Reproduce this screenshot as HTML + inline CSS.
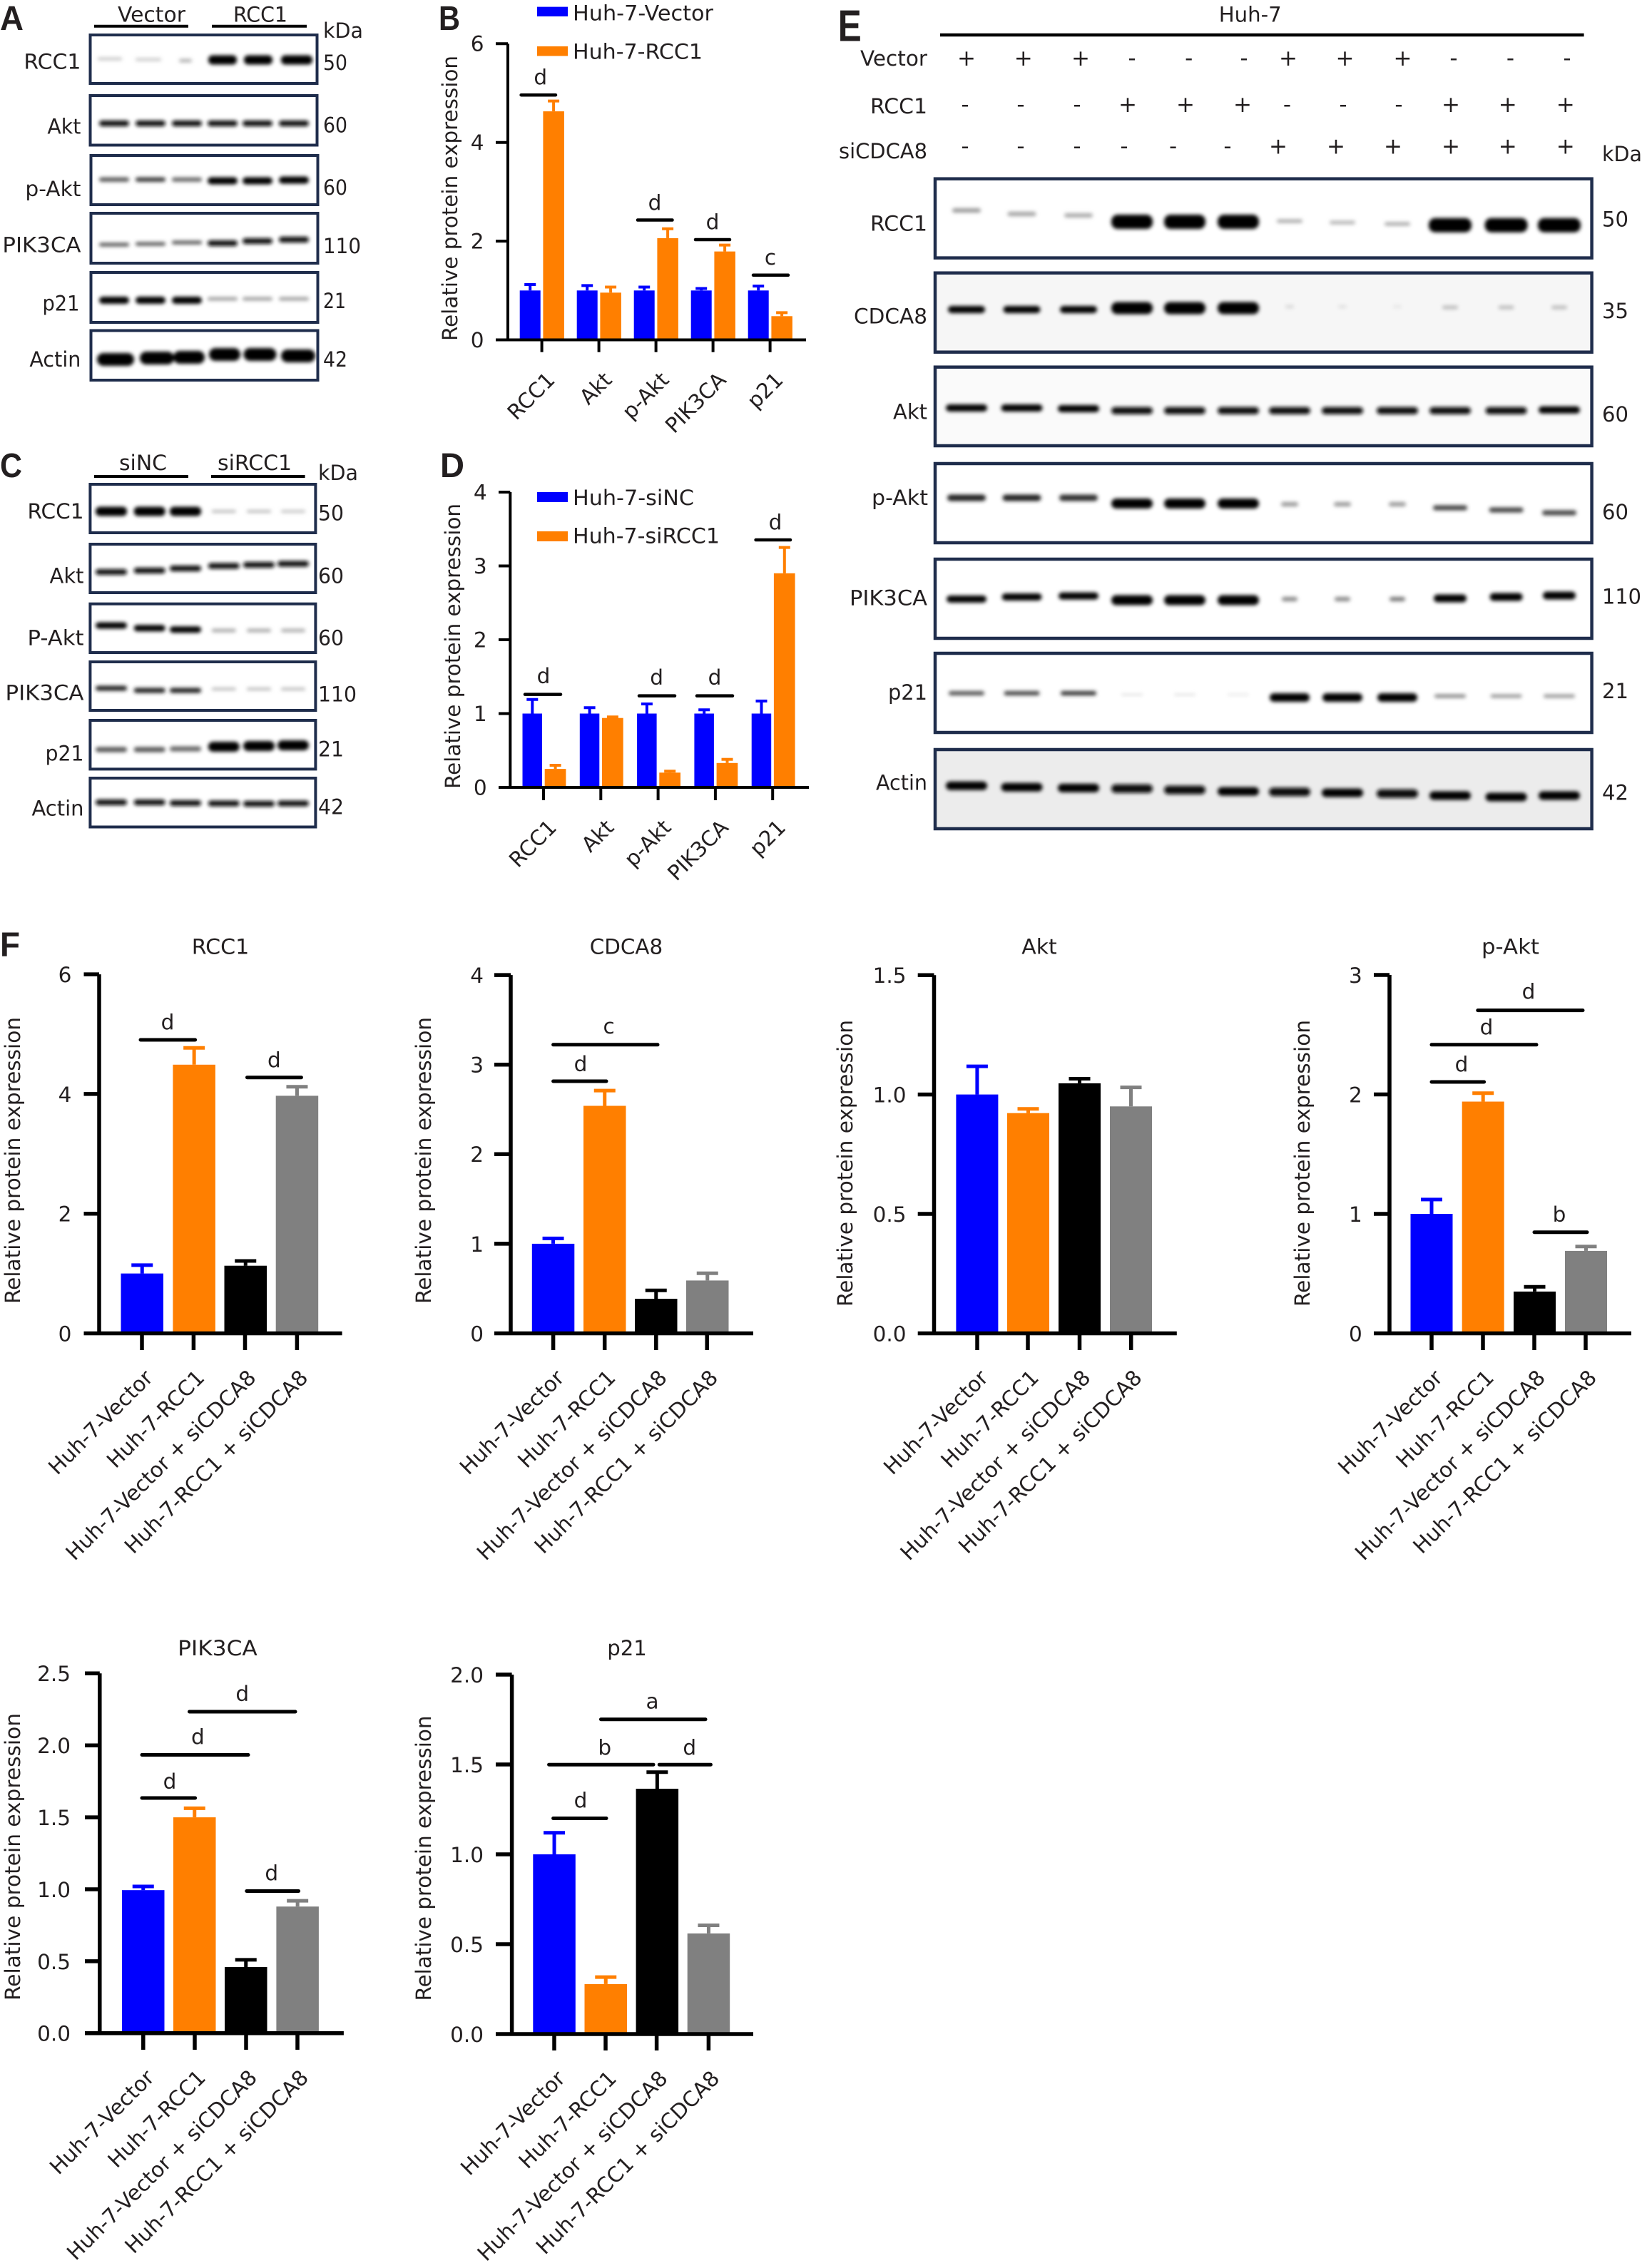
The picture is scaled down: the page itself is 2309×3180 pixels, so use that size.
<!DOCTYPE html>
<html>
<head>
<meta charset="utf-8">
<style>
html,body{margin:0;padding:0;background:#fff;}
svg{display:block;}
text{font-family:"DejaVu Sans","Liberation Sans",sans-serif;font-size:29.5px;fill:#231f20;}
.L{font-family:"Liberation Sans","DejaVu Sans",sans-serif;font-weight:bold;font-size:48px;fill:#231f20;}
.box{fill:none;stroke:#1f2d4c;stroke-width:4;}
.ax{stroke:#000;stroke-width:4;fill:none;}
.axF{stroke:#000;stroke-width:5.5;fill:none;}
.sig{stroke:#000;stroke-width:4.5;stroke-linecap:round;}
.sigF{stroke:#000;stroke-width:5;stroke-linecap:round;}
.hdr{stroke:#000;stroke-width:4;}
.pm text{font-size:31px;}
</style>
</head>
<body>
<svg width="2309" height="3180" viewBox="0 0 2309 3180" xmlns="http://www.w3.org/2000/svg">
<defs>
<filter id="bl" x="-30%" y="-200%" width="160%" height="500%"><feGaussianBlur stdDeviation="2.6"/></filter>
</defs>
<rect x="0" y="0" width="2309" height="3180" fill="#fff"/>

<!-- ================= PANEL A ================= -->
<text class="L" x="0" y="42" textLength="33" lengthAdjust="spacingAndGlyphs">A</text>
<text x="165" y="30.4" textLength="95" lengthAdjust="spacingAndGlyphs">Vector</text>
<line class="hdr" x1="132" y1="36.8" x2="264" y2="36.8"/>
<text x="327" y="30.4" textLength="76" lengthAdjust="spacingAndGlyphs">RCC1</text>
<line class="hdr" x1="297" y1="36.8" x2="430" y2="36.8"/>
<text x="453" y="52.8" textLength="56" lengthAdjust="spacingAndGlyphs">kDa</text>

<g text-anchor="end">
<text x="113.4" y="96.4" textLength="80" lengthAdjust="spacingAndGlyphs">RCC1</text>
<text x="113.4" y="187.5" textLength="47" lengthAdjust="spacingAndGlyphs">Akt</text>
<text x="113.4" y="275" textLength="78" lengthAdjust="spacingAndGlyphs">p-Akt</text>
<text x="113.4" y="353.5" textLength="110" lengthAdjust="spacingAndGlyphs">PIK3CA</text>
<text x="111.5" y="435.7" textLength="52" lengthAdjust="spacingAndGlyphs">p21</text>
<text x="113.4" y="514" textLength="72" lengthAdjust="spacingAndGlyphs">Actin</text>
</g>
<text x="453" y="98" textLength="34" lengthAdjust="spacingAndGlyphs">50</text>
<text x="453" y="185.7" textLength="34" lengthAdjust="spacingAndGlyphs">60</text>
<text x="453" y="273" textLength="34" lengthAdjust="spacingAndGlyphs">60</text>
<text x="453" y="355" textLength="53" lengthAdjust="spacingAndGlyphs">110</text>
<text x="453" y="432" textLength="32" lengthAdjust="spacingAndGlyphs">21</text>
<text x="453" y="514" textLength="34" lengthAdjust="spacingAndGlyphs">42</text>

<g filter="url(#bl)">
<rect x="137" y="80.5" width="34" height="4" rx="2" fill="#c4c4c4"/>
<rect x="190" y="81.5" width="36" height="4" rx="2" fill="#c8c8c8"/>
<rect x="251" y="82.5" width="18" height="5" rx="2.5" fill="#b4b4b4"/>
<rect x="292" y="77.5" width="40" height="13" rx="6" fill="#000"/>
<rect x="342" y="77.5" width="40" height="13" rx="6" fill="#000"/>
<rect x="394" y="77.5" width="44" height="13" rx="6" fill="#000"/>
<rect x="139" y="169" width="42" height="8" rx="4" fill="#111"/>
<rect x="190" y="169" width="42" height="8" rx="4" fill="#111"/>
<rect x="241" y="169" width="42" height="8" rx="4" fill="#111"/>
<rect x="291" y="169" width="42" height="8" rx="4" fill="#111"/>
<rect x="340" y="169" width="42" height="8" rx="4" fill="#111"/>
<rect x="391" y="169" width="42" height="8" rx="4" fill="#111"/>
<rect x="139" y="248.7" width="42" height="6" rx="3" fill="#555"/>
<rect x="190" y="248.7" width="42" height="6" rx="3" fill="#333"/>
<rect x="241" y="248.7" width="42" height="6" rx="3" fill="#666"/>
<rect x="291" y="248.5" width="42" height="10" rx="5" fill="#000"/>
<rect x="340" y="248.5" width="42" height="10" rx="5" fill="#000"/>
<rect x="391" y="247.5" width="42" height="10" rx="5" fill="#000"/>
<rect x="139" y="340.5" width="42" height="5" rx="2.5" fill="#555"/>
<rect x="190" y="339.5" width="42" height="5" rx="2.5" fill="#555"/>
<rect x="241" y="337.5" width="42" height="5" rx="2.5" fill="#555"/>
<rect x="291" y="337" width="42" height="8" rx="4" fill="#111"/>
<rect x="340" y="334" width="42" height="8" rx="4" fill="#111"/>
<rect x="391" y="332" width="42" height="8" rx="4" fill="#111"/>
<rect x="139" y="416" width="42" height="10" rx="5" fill="#000"/>
<rect x="190" y="416" width="42" height="10" rx="5" fill="#000"/>
<rect x="241" y="416" width="42" height="10" rx="5" fill="#000"/>
<rect x="291" y="416.5" width="42" height="5" rx="2.5" fill="#a0a0a0"/>
<rect x="340" y="416.5" width="42" height="5" rx="2.5" fill="#a0a0a0"/>
<rect x="391" y="416.5" width="42" height="5" rx="2.5" fill="#a0a0a0"/>
<rect x="136" y="495" width="52" height="18" rx="9" fill="#000"/>
<rect x="196" y="493" width="48" height="18" rx="9" fill="#000"/>
<rect x="243" y="492" width="44" height="18" rx="9" fill="#000"/>
<rect x="293" y="488" width="44" height="18" rx="9" fill="#000"/>
<rect x="341.5" y="488" width="46" height="18" rx="9" fill="#000"/>
<rect x="394" y="490" width="48" height="18" rx="9" fill="#000"/>
</g>
<rect class="box" x="126.5" y="49" width="318" height="68"/>
<rect class="box" x="126.5" y="134" width="318" height="69.5"/>
<rect class="box" x="127.5" y="218" width="318" height="69"/>
<rect class="box" x="127.5" y="299" width="318" height="70"/>
<rect class="box" x="127.5" y="382" width="318" height="70"/>
<rect class="box" x="127.5" y="463.5" width="318" height="69.5"/>

<!-- ================= PANEL B ================= -->
<text class="L" x="615" y="42" textLength="30" lengthAdjust="spacingAndGlyphs">B</text>
<rect x="753" y="9.6" width="43" height="13.4" fill="#0000ff"/>
<text x="803" y="28.7" textLength="197" lengthAdjust="spacingAndGlyphs">Huh-7-Vector</text>
<rect x="753" y="65" width="43" height="13.5" fill="#ff7f00"/>
<text x="803" y="82.3" textLength="182" lengthAdjust="spacingAndGlyphs">Huh-7-RCC1</text>

<text transform="translate(641,278) rotate(-90)" text-anchor="middle" textLength="400" lengthAdjust="spacingAndGlyphs">Relative protein expression</text>

<g fill="#0000ff">
<rect x="728.7" y="407.3" width="29" height="69.2"/>
<rect x="808.7" y="407.3" width="29" height="69.2"/>
<rect x="888.7" y="407.3" width="29" height="69.2"/>
<rect x="968.7" y="407.3" width="29" height="69.2"/>
<rect x="1048.7" y="407.3" width="29" height="69.2"/>
</g>
<g stroke="#0000ff" stroke-width="4">
<line x1="743.2" y1="407.3" x2="743.2" y2="399"/><line x1="735.2" y1="399" x2="751.2" y2="399"/>
<line x1="823.2" y1="407.3" x2="823.2" y2="400.4"/><line x1="815.2" y1="400.4" x2="831.2" y2="400.4"/>
<line x1="903.2" y1="407.3" x2="903.2" y2="402.5"/><line x1="895.2" y1="402.5" x2="911.2" y2="402.5"/>
<line x1="983.2" y1="407.3" x2="983.2" y2="404.5"/><line x1="975.2" y1="404.5" x2="991.2" y2="404.5"/>
<line x1="1063.2" y1="407.3" x2="1063.2" y2="401.1"/><line x1="1055.2" y1="401.1" x2="1071.2" y2="401.1"/>
</g>
<g fill="#ff7f00">
<rect x="761.4" y="156.1" width="29.5" height="320.4"/>
<rect x="841.4" y="410.3" width="29.5" height="66.2"/>
<rect x="921.4" y="333.9" width="29.5" height="142.6"/>
<rect x="1001.4" y="352.6" width="29.5" height="123.9"/>
<rect x="1081.4" y="443.3" width="29.5" height="33.2"/>
</g>
<g stroke="#ff7f00" stroke-width="4">
<line x1="776.1" y1="156.1" x2="776.1" y2="141.6"/><line x1="768.1" y1="141.6" x2="784.1" y2="141.6"/>
<line x1="856.1" y1="410.3" x2="856.1" y2="402.5"/><line x1="848.1" y1="402.5" x2="864.1" y2="402.5"/>
<line x1="936.1" y1="333.9" x2="936.1" y2="320.8"/><line x1="928.1" y1="320.8" x2="944.1" y2="320.8"/>
<line x1="1016.1" y1="352.6" x2="1016.1" y2="343.6"/><line x1="1008.1" y1="343.6" x2="1024.1" y2="343.6"/>
<line x1="1096.1" y1="443.3" x2="1096.1" y2="438.4"/><line x1="1088.1" y1="438.4" x2="1104.1" y2="438.4"/>
</g>
<line class="ax" x1="712" y1="61.2" x2="712" y2="478.5"/>
<g class="ax">
<line x1="695" y1="61.2" x2="712" y2="61.2"/>
<line x1="695" y1="199.7" x2="712" y2="199.7"/>
<line x1="695" y1="338.1" x2="712" y2="338.1"/>
<line x1="695" y1="476.5" x2="1130" y2="476.5"/>
<line x1="759.6" y1="476.5" x2="759.6" y2="493.7"/>
<line x1="839.6" y1="476.5" x2="839.6" y2="493.7"/>
<line x1="919.6" y1="476.5" x2="919.6" y2="493.7"/>
<line x1="999.6" y1="476.5" x2="999.6" y2="493.7"/>
<line x1="1079.6" y1="476.5" x2="1079.6" y2="493.7"/>
</g>
<g text-anchor="end">
<text x="678.5" y="71.7">6</text>
<text x="678.5" y="210.2">4</text>
<text x="678.5" y="348.6">2</text>
<text x="678.5" y="487">0</text>
<text transform="translate(779.6,534.5) rotate(-45)">RCC1</text>
<text transform="translate(859.6,534.5) rotate(-45)">Akt</text>
<text transform="translate(939.6,534.5) rotate(-45)">p-Akt</text>
<text transform="translate(1019.6,534.5) rotate(-45)">PIK3CA</text>
<text transform="translate(1099.6,534.5) rotate(-45)">p21</text>
</g>
<g class="sig">
<line x1="730.6" y1="133.2" x2="779" y2="133.2"/>
<line x1="894" y1="308.5" x2="942.5" y2="308.5"/>
<line x1="975" y1="336" x2="1023" y2="336"/>
<line x1="1056" y1="385.8" x2="1105" y2="385.8"/>
</g>
<g text-anchor="middle">
<text x="757.7" y="118.6">d</text>
<text x="918" y="294.7">d</text>
<text x="999" y="321.5">d</text>
<text x="1080" y="371">c</text>
</g>

<!-- ================= PANEL C ================= -->
<text class="L" x="0" y="669" textLength="31" lengthAdjust="spacingAndGlyphs">C</text>
<text x="167" y="659" textLength="67" lengthAdjust="spacingAndGlyphs">siNC</text>
<line class="hdr" x1="132" y1="668" x2="264" y2="668"/>
<text x="305" y="659" textLength="104" lengthAdjust="spacingAndGlyphs">siRCC1</text>
<line class="hdr" x1="296" y1="668" x2="427.6" y2="668"/>
<text x="446" y="673" textLength="56" lengthAdjust="spacingAndGlyphs">kDa</text>
<g text-anchor="end">
<text x="117.5" y="727" textLength="79" lengthAdjust="spacingAndGlyphs">RCC1</text>
<text x="117.5" y="817.5" textLength="48" lengthAdjust="spacingAndGlyphs">Akt</text>
<text x="117.5" y="904.5" textLength="79" lengthAdjust="spacingAndGlyphs">P-Akt</text>
<text x="117.5" y="981.6" textLength="110" lengthAdjust="spacingAndGlyphs">PIK3CA</text>
<text x="117.5" y="1066.6" textLength="54" lengthAdjust="spacingAndGlyphs">p21</text>
<text x="117.5" y="1143.7" textLength="73" lengthAdjust="spacingAndGlyphs">Actin</text>
</g>
<text x="446" y="729.7" textLength="36" lengthAdjust="spacingAndGlyphs">50</text>
<text x="446" y="817.5" textLength="36" lengthAdjust="spacingAndGlyphs">60</text>
<text x="446" y="904.5" textLength="36" lengthAdjust="spacingAndGlyphs">60</text>
<text x="446" y="983.5" textLength="54" lengthAdjust="spacingAndGlyphs">110</text>
<text x="446" y="1060.6" textLength="36" lengthAdjust="spacingAndGlyphs">21</text>
<text x="446" y="1141.7" textLength="36" lengthAdjust="spacingAndGlyphs">42</text>

<g filter="url(#bl)">
<rect x="134" y="710.5" width="44" height="13" rx="6" fill="#000"/>
<rect x="187.7" y="710.5" width="44" height="13" rx="6" fill="#000"/>
<rect x="238" y="710.5" width="44" height="13" rx="6" fill="#000"/>
<rect x="296.8" y="715" width="34" height="4" rx="2" fill="#bbb"/>
<rect x="346" y="715" width="34" height="4" rx="2" fill="#bbb"/>
<rect x="394" y="715" width="34" height="4" rx="2" fill="#c4c4c4"/>
<rect x="134" y="798" width="44" height="8" rx="4" fill="#111"/>
<rect x="187.7" y="796" width="44" height="8" rx="4" fill="#111"/>
<rect x="238" y="793" width="44" height="8" rx="4" fill="#111"/>
<rect x="291.8" y="789.5" width="44" height="8" rx="4" fill="#111"/>
<rect x="341" y="788" width="44" height="8" rx="4" fill="#111"/>
<rect x="389" y="786.5" width="44" height="8" rx="4" fill="#111"/>
<rect x="134" y="872.5" width="44" height="9" rx="4.5" fill="#000"/>
<rect x="187.7" y="876.2" width="44" height="9" rx="4.5" fill="#000"/>
<rect x="238" y="878.2" width="44" height="9" rx="4.5" fill="#000"/>
<rect x="296.8" y="881.5" width="34" height="5" rx="2.5" fill="#aaa"/>
<rect x="346" y="881.5" width="34" height="5" rx="2.5" fill="#aaa"/>
<rect x="394" y="881.5" width="34" height="5" rx="2.5" fill="#b0b0b0"/>
<rect x="134" y="961.5" width="44" height="7" rx="3.5" fill="#222"/>
<rect x="187.7" y="964.5" width="44" height="7" rx="3.5" fill="#222"/>
<rect x="238" y="964.5" width="44" height="7" rx="3.5" fill="#222"/>
<rect x="296.8" y="964" width="34" height="4" rx="2" fill="#bbb"/>
<rect x="346" y="964" width="34" height="4" rx="2" fill="#bbb"/>
<rect x="394" y="964" width="34" height="4" rx="2" fill="#bbb"/>
<rect x="134" y="1047.5" width="44" height="7" rx="3.5" fill="#555"/>
<rect x="187.7" y="1047.5" width="44" height="7" rx="3.5" fill="#555"/>
<rect x="238" y="1046.5" width="44" height="7" rx="3.5" fill="#666"/>
<rect x="291.8" y="1040" width="44" height="14" rx="7" fill="#000"/>
<rect x="341" y="1039" width="44" height="14" rx="7" fill="#000"/>
<rect x="389" y="1038" width="44" height="14" rx="7" fill="#000"/>
<rect x="134" y="1121" width="44" height="8" rx="4" fill="#111"/>
<rect x="187.7" y="1121" width="44" height="8" rx="4" fill="#111"/>
<rect x="238" y="1122" width="44" height="8" rx="4" fill="#111"/>
<rect x="291.8" y="1122.5" width="44" height="8" rx="4" fill="#111"/>
<rect x="341" y="1123" width="44" height="8" rx="4" fill="#111"/>
<rect x="389" y="1122.5" width="44" height="8" rx="4" fill="#111"/>
</g>
<rect class="box" x="126.4" y="679" width="316" height="68"/>
<rect class="box" x="126.4" y="763" width="316" height="68"/>
<rect class="box" x="126.4" y="846.7" width="316" height="68.3"/>
<rect class="box" x="126.4" y="928" width="316" height="68"/>
<rect class="box" x="126.4" y="1010" width="316" height="68.4"/>
<rect class="box" x="126.4" y="1091" width="316" height="68.5"/>

<!-- ================= PANEL D ================= -->
<text class="L" x="617" y="669" textLength="34" lengthAdjust="spacingAndGlyphs">D</text>
<rect x="753" y="690" width="43" height="14" fill="#0000ff"/>
<text x="803" y="707.8" textLength="170" lengthAdjust="spacingAndGlyphs">Huh-7-siNC</text>
<rect x="753" y="745" width="43" height="14" fill="#ff7f00"/>
<text x="803" y="761.3" textLength="206" lengthAdjust="spacingAndGlyphs">Huh-7-siRCC1</text>
<text transform="translate(645,906) rotate(-90)" text-anchor="middle" textLength="400" lengthAdjust="spacingAndGlyphs">Relative protein expression</text>

<g fill="#0000ff">
<rect x="732.5" y="1000.5" width="27.5" height="103.5"/>
<rect x="812.8" y="1000.5" width="27.5" height="103.5"/>
<rect x="893.1" y="1000.5" width="27.5" height="103.5"/>
<rect x="973.4" y="1000.5" width="27.5" height="103.5"/>
<rect x="1053.7" y="1000.5" width="27.5" height="103.5"/>
</g>
<g stroke="#0000ff" stroke-width="4">
<line x1="746.3" y1="1000.5" x2="746.3" y2="980.8"/><line x1="738.3" y1="980.8" x2="754.3" y2="980.8"/>
<line x1="826.6" y1="1000.5" x2="826.6" y2="992.2"/><line x1="818.6" y1="992.2" x2="834.6" y2="992.2"/>
<line x1="906.9" y1="1000.5" x2="906.9" y2="987"/><line x1="898.9" y1="987" x2="914.9" y2="987"/>
<line x1="987.2" y1="1000.5" x2="987.2" y2="995.3"/><line x1="979.2" y1="995.3" x2="995.2" y2="995.3"/>
<line x1="1067.5" y1="1000.5" x2="1067.5" y2="982.9"/><line x1="1059.5" y1="982.9" x2="1075.5" y2="982.9"/>
</g>
<g fill="#ff7f00">
<rect x="763.7" y="1078.1" width="29.7" height="25.9"/>
<rect x="844" y="1006.7" width="29.7" height="97.3"/>
<rect x="924.3" y="1083.3" width="29.7" height="20.7"/>
<rect x="1004.6" y="1069.8" width="29.7" height="34.2"/>
<rect x="1084.9" y="803.8" width="29.7" height="300.2"/>
</g>
<g stroke="#ff7f00" stroke-width="4">
<line x1="778.6" y1="1078.1" x2="778.6" y2="1073"/><line x1="770.6" y1="1073" x2="786.6" y2="1073"/>
<line x1="850.9" y1="1005.2" x2="866.9" y2="1005.2"/>
<line x1="939.2" y1="1083.3" x2="939.2" y2="1081.2"/><line x1="931.2" y1="1081.2" x2="947.2" y2="1081.2"/>
<line x1="1019.5" y1="1069.8" x2="1019.5" y2="1064.7"/><line x1="1011.5" y1="1064.7" x2="1027.5" y2="1064.7"/>
<line x1="1099.8" y1="803.8" x2="1099.8" y2="767.6"/><line x1="1091.8" y1="767.6" x2="1107.8" y2="767.6"/>
</g>
<line class="ax" x1="715.3" y1="690" x2="715.3" y2="1106"/>
<g class="ax">
<line x1="699" y1="690" x2="715.3" y2="690"/>
<line x1="699" y1="793.5" x2="715.3" y2="793.5"/>
<line x1="699" y1="897" x2="715.3" y2="897"/>
<line x1="699" y1="1000.5" x2="715.3" y2="1000.5"/>
<line x1="699" y1="1104" x2="1134" y2="1104"/>
<line x1="762" y1="1104" x2="762" y2="1122"/>
<line x1="842.3" y1="1104" x2="842.3" y2="1122"/>
<line x1="922.6" y1="1104" x2="922.6" y2="1122"/>
<line x1="1002.9" y1="1104" x2="1002.9" y2="1122"/>
<line x1="1083.2" y1="1104" x2="1083.2" y2="1122"/>
</g>
<g text-anchor="end">
<text x="682.6" y="700.5">4</text>
<text x="682.6" y="804">3</text>
<text x="682.6" y="907.5">2</text>
<text x="682.6" y="1011">1</text>
<text x="682.6" y="1114.5">0</text>
<text transform="translate(782,1162) rotate(-45)">RCC1</text>
<text transform="translate(862.3,1162) rotate(-45)">Akt</text>
<text transform="translate(942.6,1162) rotate(-45)">p-Akt</text>
<text transform="translate(1022.9,1162) rotate(-45)">PIK3CA</text>
<text transform="translate(1103.2,1162) rotate(-45)">p21</text>
</g>
<g class="sig">
<line x1="736" y1="973.6" x2="786" y2="973.6"/>
<line x1="896" y1="975.6" x2="946" y2="975.6"/>
<line x1="977" y1="975.6" x2="1027" y2="975.6"/>
<line x1="1059.6" y1="757" x2="1108" y2="757"/>
</g>
<g text-anchor="middle">
<text x="762" y="957.8">d</text>
<text x="920.6" y="959.8">d</text>
<text x="1002" y="959.8">d</text>
<text x="1087" y="742.3">d</text>
</g>

<!-- ================= PANEL E ================= -->
<text class="L" x="1174.7" y="57.4" style="font-size:62px" textLength="33" lengthAdjust="spacingAndGlyphs">E</text>
<text x="1708.7" y="30.6" textLength="88" lengthAdjust="spacingAndGlyphs">Huh-7</text>
<line x1="1318" y1="49" x2="2220.6" y2="49" stroke="#000" stroke-width="4.5"/>
<g text-anchor="end">
<text x="1300" y="91.8" textLength="94" lengthAdjust="spacingAndGlyphs">Vector</text>
<text x="1300" y="158.8" textLength="80" lengthAdjust="spacingAndGlyphs">RCC1</text>
<text x="1300" y="222" textLength="124" lengthAdjust="spacingAndGlyphs">siCDCA8</text>
</g>
<g text-anchor="middle" class="pm">
<text x="1355" y="92">+</text><text x="1434.7" y="92">+</text><text x="1515" y="92">+</text>
<text x="1587" y="92">-</text><text x="1666.7" y="92">-</text><text x="1744" y="92">-</text>
<text x="1806" y="92">+</text><text x="1885.5" y="92">+</text><text x="1966.5" y="92">+</text>
<text x="2038" y="92">-</text><text x="2117.5" y="92">-</text><text x="2197" y="92">-</text>
<text x="1353" y="157">-</text><text x="1431" y="157">-</text><text x="1510" y="157">-</text>
<text x="1581" y="157">+</text><text x="1662" y="157">+</text><text x="1742" y="157">+</text>
<text x="1804.5" y="157">-</text><text x="1883" y="157">-</text><text x="1961" y="157">-</text>
<text x="2034" y="157">+</text><text x="2113.7" y="157">+</text><text x="2194.7" y="157">+</text>
<text x="1353" y="215.5">-</text><text x="1431" y="215.5">-</text><text x="1510" y="215.5">-</text>
<text x="1576" y="215.5">-</text><text x="1644.6" y="215.5">-</text><text x="1721" y="215.5">-</text>
<text x="1792" y="215.5">+</text><text x="1873" y="215.5">+</text><text x="1953" y="215.5">+</text>
<text x="2034" y="215.5">+</text><text x="2113.7" y="215.5">+</text><text x="2194.7" y="215.5">+</text>
</g>
<text x="2246" y="225.8" textLength="56" lengthAdjust="spacingAndGlyphs">kDa</text>
<g text-anchor="end">
<text x="1300" y="323.4" textLength="80" lengthAdjust="spacingAndGlyphs">RCC1</text>
<text x="1300" y="453.5" textLength="103" lengthAdjust="spacingAndGlyphs">CDCA8</text>
<text x="1300" y="587.4" textLength="48" lengthAdjust="spacingAndGlyphs">Akt</text>
<text x="1301" y="708" textLength="79" lengthAdjust="spacingAndGlyphs">p-Akt</text>
<text x="1300" y="848.6" textLength="109" lengthAdjust="spacingAndGlyphs">PIK3CA</text>
<text x="1300" y="981" textLength="55" lengthAdjust="spacingAndGlyphs">p21</text>
<text x="1300" y="1107.6" textLength="72" lengthAdjust="spacingAndGlyphs">Actin</text>
</g>
<text x="2246" y="317.6" textLength="37" lengthAdjust="spacingAndGlyphs">50</text>
<text x="2246" y="445.8" textLength="37" lengthAdjust="spacingAndGlyphs">35</text>
<text x="2246" y="591" textLength="37" lengthAdjust="spacingAndGlyphs">60</text>
<text x="2246" y="728" textLength="37" lengthAdjust="spacingAndGlyphs">60</text>
<text x="2246" y="846.7" textLength="55" lengthAdjust="spacingAndGlyphs">110</text>
<text x="2246" y="979" textLength="37" lengthAdjust="spacingAndGlyphs">21</text>
<text x="2246" y="1121.5" textLength="37" lengthAdjust="spacingAndGlyphs">42</text>

<rect x="1313" y="384.7" width="916" height="107" fill="#f6f6f6"/>
<rect x="1313" y="516.7" width="916" height="106" fill="#fafafa"/>
<rect x="1313" y="1053" width="916" height="107" fill="#ececec"/>

<g filter="url(#bl)">
<rect x="1335" y="292" width="40" height="6" rx="3" fill="#999"/>
<rect x="1412.5" y="297" width="40" height="6" rx="3" fill="#a4a4a4"/>
<rect x="1492" y="299" width="40" height="6" rx="3" fill="#aaa"/>
<rect x="1558" y="301" width="58" height="20" rx="9" fill="#000"/>
<rect x="1632" y="301" width="58" height="20" rx="9" fill="#000"/>
<rect x="1707" y="301" width="58" height="20" rx="9" fill="#000"/>
<rect x="1790" y="307.5" width="36" height="5" rx="2.5" fill="#aaa"/>
<rect x="1864" y="309.5" width="36" height="5" rx="2.5" fill="#b4b4b4"/>
<rect x="1941" y="311.5" width="36" height="5" rx="2.5" fill="#aaa"/>
<rect x="2003" y="305.7" width="60" height="20" rx="9" fill="#000"/>
<rect x="2081.6" y="305.7" width="60" height="20" rx="9" fill="#000"/>
<rect x="2156" y="305.7" width="60" height="20" rx="9" fill="#000"/>
<rect x="1329" y="429" width="52" height="10" rx="5" fill="#000"/>
<rect x="1406.5" y="429" width="52" height="10" rx="5" fill="#000"/>
<rect x="1486" y="429" width="52" height="10" rx="5" fill="#000"/>
<rect x="1558" y="423.5" width="58" height="17" rx="8" fill="#000"/>
<rect x="1632" y="423.5" width="58" height="17" rx="8" fill="#000"/>
<rect x="1707" y="423.5" width="58" height="17" rx="8" fill="#000"/>
<rect x="1802" y="428" width="12" height="4" rx="2" fill="#d4d4d4"/>
<rect x="1876" y="428" width="12" height="4" rx="2" fill="#ddd"/>
<rect x="1953" y="428" width="12" height="4" rx="2" fill="#e4e4e4"/>
<rect x="2022" y="428.5" width="22" height="5" rx="2.5" fill="#bbb"/>
<rect x="2100.6" y="428.5" width="22" height="5" rx="2.5" fill="#bbb"/>
<rect x="2175" y="428.5" width="22" height="5" rx="2.5" fill="#bbb"/>
<rect x="1326" y="567" width="58" height="10" rx="5" fill="#000"/>
<rect x="1403.5" y="567" width="58" height="10" rx="5" fill="#000"/>
<rect x="1483" y="568" width="58" height="10" rx="5" fill="#000"/>
<rect x="1558" y="570.8" width="58" height="10" rx="5" fill="#111"/>
<rect x="1632" y="570.8" width="58" height="10" rx="5" fill="#111"/>
<rect x="1707" y="570.8" width="58" height="10" rx="5" fill="#111"/>
<rect x="1779" y="570.8" width="58" height="10" rx="5" fill="#111"/>
<rect x="1853" y="570.8" width="58" height="10" rx="5" fill="#111"/>
<rect x="1930" y="570.8" width="58" height="10" rx="5" fill="#111"/>
<rect x="2004" y="570.8" width="58" height="10" rx="5" fill="#111"/>
<rect x="2082.6" y="570.8" width="58" height="10" rx="5" fill="#111"/>
<rect x="2157" y="569.8" width="58" height="10" rx="5" fill="#000"/>
<rect x="1328" y="693.5" width="54" height="9" rx="4.5" fill="#222"/>
<rect x="1405.5" y="693.5" width="54" height="9" rx="4.5" fill="#222"/>
<rect x="1485" y="693.5" width="54" height="9" rx="4.5" fill="#333"/>
<rect x="1558" y="699" width="58" height="14" rx="7" fill="#000"/>
<rect x="1632" y="699" width="58" height="14" rx="7" fill="#000"/>
<rect x="1707" y="699" width="58" height="14" rx="7" fill="#000"/>
<rect x="1796" y="704" width="24" height="6" rx="3" fill="#999"/>
<rect x="1870" y="704" width="24" height="6" rx="3" fill="#999"/>
<rect x="1947" y="704" width="24" height="6" rx="3" fill="#999"/>
<rect x="2009" y="708.5" width="48" height="7" rx="3.5" fill="#444"/>
<rect x="2087.6" y="711.5" width="48" height="7" rx="3.5" fill="#444"/>
<rect x="2162" y="715.5" width="48" height="7" rx="3.5" fill="#444"/>
<rect x="1327" y="835" width="56" height="10" rx="5" fill="#000"/>
<rect x="1404.5" y="832" width="56" height="10" rx="5" fill="#000"/>
<rect x="1484" y="830.6" width="56" height="10" rx="5" fill="#000"/>
<rect x="1558" y="834.5" width="58" height="14" rx="7" fill="#000"/>
<rect x="1632" y="834.5" width="58" height="14" rx="7" fill="#000"/>
<rect x="1707" y="834.5" width="58" height="14" rx="7" fill="#000"/>
<rect x="1797" y="837" width="22" height="6" rx="3" fill="#888"/>
<rect x="1871" y="837" width="22" height="6" rx="3" fill="#888"/>
<rect x="1948" y="837" width="22" height="6" rx="3" fill="#777"/>
<rect x="2010" y="833.5" width="46" height="11" rx="5.5" fill="#000"/>
<rect x="2088.6" y="831.5" width="46" height="11" rx="5.5" fill="#000"/>
<rect x="2163" y="829.5" width="46" height="11" rx="5.5" fill="#000"/>
<rect x="1330" y="969" width="50" height="6" rx="3" fill="#555"/>
<rect x="1407.5" y="969" width="50" height="6" rx="3" fill="#444"/>
<rect x="1487" y="969" width="50" height="6" rx="3" fill="#333"/>
<rect x="1572" y="972.5" width="30" height="3" rx="1.5" fill="#e0e0e0"/>
<rect x="1646" y="972.5" width="30" height="3" rx="1.5" fill="#e0e0e0"/>
<rect x="1721" y="972.5" width="30" height="3" rx="1.5" fill="#e8e8e8"/>
<rect x="1780" y="972" width="56" height="12" rx="6" fill="#000"/>
<rect x="1854" y="972" width="56" height="12" rx="6" fill="#000"/>
<rect x="1931" y="972" width="56" height="12" rx="6" fill="#000"/>
<rect x="2011" y="973.5" width="44" height="5" rx="2.5" fill="#888"/>
<rect x="2089.6" y="973.5" width="44" height="5" rx="2.5" fill="#999"/>
<rect x="2164" y="973.5" width="44" height="5" rx="2.5" fill="#999"/>
<rect x="1326" y="1095.7" width="58" height="12" rx="6" fill="#000"/>
<rect x="1403.5" y="1097.7" width="58" height="12" rx="6" fill="#000"/>
<rect x="1483" y="1098.9" width="58" height="12" rx="6" fill="#000"/>
<rect x="1558" y="1099.7" width="58" height="12" rx="6" fill="#111"/>
<rect x="1632" y="1101.6" width="58" height="12" rx="6" fill="#111"/>
<rect x="1707" y="1103.6" width="58" height="12" rx="6" fill="#000"/>
<rect x="1779" y="1104.4" width="58" height="12" rx="6" fill="#111"/>
<rect x="1853" y="1105.6" width="58" height="12" rx="6" fill="#000"/>
<rect x="1930" y="1106.8" width="58" height="12" rx="6" fill="#111"/>
<rect x="2004" y="1109.5" width="58" height="12" rx="6" fill="#000"/>
<rect x="2082.6" y="1111.5" width="58" height="12" rx="6" fill="#000"/>
<rect x="2157" y="1109.5" width="58" height="12" rx="6" fill="#000"/>
</g>
<g class="box" style="stroke-width:4.5">
<rect x="1311" y="250.7" width="920.6" height="110.9"/>
<rect x="1311" y="382.7" width="920.6" height="111"/>
<rect x="1311" y="514.7" width="920.6" height="110.3"/>
<rect x="1311" y="650" width="920.6" height="111"/>
<rect x="1311" y="784" width="920.6" height="111"/>
<rect x="1311" y="916" width="920.6" height="111"/>
<rect x="1311" y="1051" width="920.6" height="111"/>
</g>

<!-- ================= PANEL F ================= -->
<text class="L" x="0" y="1340.3" textLength="28" lengthAdjust="spacingAndGlyphs">F</text>

<!-- F1 RCC1 -->
<text x="309" y="1337.4" text-anchor="middle" textLength="80.5" lengthAdjust="spacingAndGlyphs">RCC1</text>
<text transform="translate(28,1627) rotate(-90)" text-anchor="middle" textLength="402" lengthAdjust="spacingAndGlyphs">Relative protein expression</text>
<rect x="169.5" y="1785.6" width="59.5" height="83.9" fill="#0000ff"/>
<rect x="242.4" y="1492.8" width="59.5" height="376.7" fill="#ff7f00"/>
<rect x="314.5" y="1774.7" width="59.5" height="94.8" fill="#000"/>
<rect x="386.7" y="1536.4" width="59.5" height="333.1" fill="#808080"/>
<g stroke-width="5">
<path d="M199.25 1785.6V1773.9M184.25 1773.9H214.25" stroke="#0000ff"/>
<path d="M272.15 1492.8V1469.3M257.15 1469.3H287.15" stroke="#ff7f00"/>
<path d="M344.25 1774.7V1768M329.25 1768H359.25" stroke="#000"/>
<path d="M416.45 1536.4V1523.8M401.45 1523.8H431.45" stroke="#808080"/>
</g>
<g class="axF">
<line x1="139" y1="1366.1" x2="139" y2="1872"/>
<line x1="117.5" y1="1366.1" x2="139" y2="1366.1"/>
<line x1="117.5" y1="1533.9" x2="139" y2="1533.9"/>
<line x1="117.5" y1="1701.7" x2="139" y2="1701.7"/>
<line x1="117.5" y1="1869.5" x2="479.6" y2="1869.5"/>
<line x1="199" y1="1869.5" x2="199" y2="1893"/>
<line x1="271.4" y1="1869.5" x2="271.4" y2="1893"/>
<line x1="343.5" y1="1869.5" x2="343.5" y2="1893"/>
<line x1="416.4" y1="1869.5" x2="416.4" y2="1893"/>
</g>
<g text-anchor="end">
<text x="100.4" y="1377">6</text>
<text x="100.4" y="1544.8">4</text>
<text x="100.4" y="1712.6">2</text>
<text x="100.4" y="1880.4">0</text>
<text transform="translate(216,1933.5) rotate(-45)">Huh-7-Vector</text>
<text transform="translate(288.4,1933.5) rotate(-45)">Huh-7-RCC1</text>
<text transform="translate(360.5,1933.5) rotate(-45)">Huh-7-Vector + siCDCA8</text>
<text transform="translate(433.4,1933.5) rotate(-45)">Huh-7-RCC1 + siCDCA8</text>
</g>
<g class="sigF">
<line x1="197" y1="1458" x2="273.6" y2="1458"/>
<line x1="346.5" y1="1510.7" x2="422.4" y2="1510.7"/>
</g>
<g text-anchor="middle">
<text x="235" y="1443.6">d</text>
<text x="384.4" y="1496.4">d</text>
</g>

<!-- F2 CDCA8 -->
<text x="878" y="1337.4" text-anchor="middle" textLength="102.5" lengthAdjust="spacingAndGlyphs">CDCA8</text>
<text transform="translate(604,1627) rotate(-90)" text-anchor="middle" textLength="402" lengthAdjust="spacingAndGlyphs">Relative protein expression</text>
<rect x="745.8" y="1743.9" width="59.5" height="125.6" fill="#0000ff"/>
<rect x="818" y="1550.5" width="59.5" height="319" fill="#ff7f00"/>
<rect x="890" y="1821" width="59.5" height="48.5" fill="#000"/>
<rect x="962" y="1795.4" width="59.5" height="74.1" fill="#808080"/>
<g stroke-width="5">
<path d="M775.55 1743.9V1736.4M760.55 1736.4H790.55" stroke="#0000ff"/>
<path d="M847.75 1550.5V1529.1M832.75 1529.1H862.75" stroke="#ff7f00"/>
<path d="M919.75 1821V1809.2M904.75 1809.2H934.75" stroke="#000"/>
<path d="M991.75 1795.4V1785.3M976.75 1785.3H1006.75" stroke="#808080"/>
</g>
<g class="axF">
<line x1="716" y1="1367.1" x2="716" y2="1872"/>
<line x1="693" y1="1367.1" x2="716" y2="1367.1"/>
<line x1="693" y1="1492.7" x2="716" y2="1492.7"/>
<line x1="693" y1="1618.3" x2="716" y2="1618.3"/>
<line x1="693" y1="1743.9" x2="716" y2="1743.9"/>
<line x1="693" y1="1869.5" x2="1056" y2="1869.5"/>
<line x1="775.6" y1="1869.5" x2="775.6" y2="1893"/>
<line x1="847.7" y1="1869.5" x2="847.7" y2="1893"/>
<line x1="919.8" y1="1869.5" x2="919.8" y2="1893"/>
<line x1="991.2" y1="1869.5" x2="991.2" y2="1893"/>
</g>
<g text-anchor="end">
<text x="678" y="1378">4</text>
<text x="678" y="1503.6">3</text>
<text x="678" y="1629.2">2</text>
<text x="678" y="1754.8">1</text>
<text x="678" y="1880.4">0</text>
<text transform="translate(792.6,1933.5) rotate(-45)">Huh-7-Vector</text>
<text transform="translate(864.7,1933.5) rotate(-45)">Huh-7-RCC1</text>
<text transform="translate(936.8,1933.5) rotate(-45)">Huh-7-Vector + siCDCA8</text>
<text transform="translate(1008.2,1933.5) rotate(-45)">Huh-7-RCC1 + siCDCA8</text>
</g>
<g class="sigF">
<line x1="775.6" y1="1516" x2="850" y2="1516"/>
<line x1="775.6" y1="1464.8" x2="922" y2="1464.8"/>
</g>
<g text-anchor="middle">
<text x="814" y="1502">d</text>
<text x="853.6" y="1449">c</text>
</g>

<!-- F3 Akt -->
<text x="1457" y="1337.4" text-anchor="middle" textLength="49.5" lengthAdjust="spacingAndGlyphs">Akt</text>
<text transform="translate(1195,1631) rotate(-90)" text-anchor="middle" textLength="402" lengthAdjust="spacingAndGlyphs">Relative protein expression</text>
<rect x="1340.4" y="1534.6" width="59" height="334.9" fill="#0000ff"/>
<rect x="1412" y="1560.7" width="59" height="308.8" fill="#ff7f00"/>
<rect x="1484" y="1518.9" width="59" height="350.6" fill="#000"/>
<rect x="1556" y="1551.3" width="59" height="318.2" fill="#808080"/>
<g stroke-width="5">
<path d="M1369.9 1534.6V1495.1M1354.9 1495.1H1384.9" stroke="#0000ff"/>
<path d="M1441.5 1560.7V1554.7M1426.5 1554.7H1456.5" stroke="#ff7f00"/>
<path d="M1513.5 1518.9V1512.5M1498.5 1512.5H1528.5" stroke="#000"/>
<path d="M1585.5 1551.3V1524.6M1570.5 1524.6H1600.5" stroke="#808080"/>
</g>
<g class="axF">
<line x1="1309.5" y1="1367.2" x2="1309.5" y2="1872"/>
<line x1="1286.7" y1="1367.2" x2="1309.5" y2="1367.2"/>
<line x1="1286.7" y1="1534.6" x2="1309.5" y2="1534.6"/>
<line x1="1286.7" y1="1702" x2="1309.5" y2="1702"/>
<line x1="1286.7" y1="1869.5" x2="1649.8" y2="1869.5"/>
<line x1="1370" y1="1869.5" x2="1370" y2="1893"/>
<line x1="1441" y1="1869.5" x2="1441" y2="1893"/>
<line x1="1513.5" y1="1869.5" x2="1513.5" y2="1893"/>
<line x1="1585.7" y1="1869.5" x2="1585.7" y2="1893"/>
</g>
<g text-anchor="end">
<text x="1270.5" y="1378.1">1.5</text>
<text x="1270.5" y="1545.5">1.0</text>
<text x="1270.5" y="1712.9">0.5</text>
<text x="1270.5" y="1880.4">0.0</text>
<text transform="translate(1387,1933.5) rotate(-45)">Huh-7-Vector</text>
<text transform="translate(1458,1933.5) rotate(-45)">Huh-7-RCC1</text>
<text transform="translate(1530.5,1933.5) rotate(-45)">Huh-7-Vector + siCDCA8</text>
<text transform="translate(1602.7,1933.5) rotate(-45)">Huh-7-RCC1 + siCDCA8</text>
</g>

<!-- F4 p-Akt -->
<text x="2117.5" y="1337.4" text-anchor="middle" textLength="81" lengthAdjust="spacingAndGlyphs">p-Akt</text>
<text transform="translate(1836,1631) rotate(-90)" text-anchor="middle" textLength="402" lengthAdjust="spacingAndGlyphs">Relative protein expression</text>
<rect x="1977.5" y="1702" width="59" height="167.5" fill="#0000ff"/>
<rect x="2049.7" y="1544.55" width="59" height="324.95" fill="#ff7f00"/>
<rect x="2122" y="1810.9" width="59" height="58.6" fill="#000"/>
<rect x="2194" y="1753.9" width="59" height="115.6" fill="#808080"/>
<g stroke-width="5">
<path d="M2007 1702V1681.9M1992 1681.9H2022" stroke="#0000ff"/>
<path d="M2079.2 1544.55V1532.8M2064.2 1532.8H2094.2" stroke="#ff7f00"/>
<path d="M2151.5 1810.9V1804.2M2136.5 1804.2H2166.5" stroke="#000"/>
<path d="M2223.5 1753.9V1747.7M2208.5 1747.7H2238.5" stroke="#808080"/>
</g>
<g class="axF">
<line x1="1948" y1="1367" x2="1948" y2="1872"/>
<line x1="1926" y1="1367" x2="1948" y2="1367"/>
<line x1="1926" y1="1534.5" x2="1948" y2="1534.5"/>
<line x1="1926" y1="1702" x2="1948" y2="1702"/>
<line x1="1926" y1="1869.5" x2="2287" y2="1869.5"/>
<line x1="2007" y1="1869.5" x2="2007" y2="1893"/>
<line x1="2079" y1="1869.5" x2="2079" y2="1893"/>
<line x1="2151" y1="1869.5" x2="2151" y2="1893"/>
<line x1="2223" y1="1869.5" x2="2223" y2="1893"/>
</g>
<g text-anchor="end">
<text x="1909.8" y="1377.9">3</text>
<text x="1909.8" y="1545.4">2</text>
<text x="1909.8" y="1712.9">1</text>
<text x="1909.8" y="1880.4">0</text>
<text transform="translate(2024,1933.5) rotate(-45)">Huh-7-Vector</text>
<text transform="translate(2096,1933.5) rotate(-45)">Huh-7-RCC1</text>
<text transform="translate(2168,1933.5) rotate(-45)">Huh-7-Vector + siCDCA8</text>
<text transform="translate(2240,1933.5) rotate(-45)">Huh-7-RCC1 + siCDCA8</text>
</g>
<g class="sigF">
<line x1="2007" y1="1517" x2="2080.6" y2="1517"/>
<line x1="2007" y1="1464.8" x2="2154" y2="1464.8"/>
<line x1="2071.8" y1="1416.6" x2="2219" y2="1416.6"/>
<line x1="2151" y1="1727.7" x2="2225" y2="1727.7"/>
</g>
<g text-anchor="middle">
<text x="2049" y="1502.7">d</text>
<text x="2084" y="1450.5">d</text>
<text x="2143" y="1400.5">d</text>
<text x="2186" y="1713">b</text>
</g>

<!-- F5 PIK3CA -->
<text x="305" y="2321" text-anchor="middle" textLength="111.6" lengthAdjust="spacingAndGlyphs">PIK3CA</text>
<text transform="translate(28,2603.5) rotate(-90)" text-anchor="middle" textLength="403" lengthAdjust="spacingAndGlyphs">Relative protein expression</text>
<rect x="171" y="2650.2" width="59.5" height="200.6" fill="#0000ff"/>
<rect x="243" y="2548.1" width="59.5" height="302.7" fill="#ff7f00"/>
<rect x="315" y="2758" width="59.5" height="92.8" fill="#000"/>
<rect x="387.4" y="2673.2" width="59.5" height="177.6" fill="#808080"/>
<g stroke-width="5">
<path d="M200.75 2650.2V2645M185.75 2645H215.75" stroke="#0000ff"/>
<path d="M272.75 2548.1V2535.4M257.75 2535.4H287.75" stroke="#ff7f00"/>
<path d="M344.75 2758V2747.9M329.75 2747.9H359.75" stroke="#000"/>
<path d="M417.15 2673.2V2665.1M402.15 2665.1H432.15" stroke="#808080"/>
</g>
<g class="axF">
<line x1="139.8" y1="2346.3" x2="139.8" y2="2853.3"/>
<line x1="119" y1="2346.3" x2="139.8" y2="2346.3"/>
<line x1="119" y1="2447.2" x2="139.8" y2="2447.2"/>
<line x1="119" y1="2548.1" x2="139.8" y2="2548.1"/>
<line x1="119" y1="2649" x2="139.8" y2="2649"/>
<line x1="119" y1="2749.9" x2="139.8" y2="2749.9"/>
<line x1="119" y1="2850.8" x2="481.9" y2="2850.8"/>
<line x1="200.8" y1="2850.8" x2="200.8" y2="2874"/>
<line x1="273" y1="2850.8" x2="273" y2="2874"/>
<line x1="345" y1="2850.8" x2="345" y2="2874"/>
<line x1="417" y1="2850.8" x2="417" y2="2874"/>
</g>
<g text-anchor="end">
<text x="99" y="2357.2">2.5</text>
<text x="99" y="2458.1">2.0</text>
<text x="99" y="2559">1.5</text>
<text x="99" y="2659.9">1.0</text>
<text x="99" y="2760.8">0.5</text>
<text x="99" y="2861.7">0.0</text>
<text transform="translate(217.8,2914.8) rotate(-45)">Huh-7-Vector</text>
<text transform="translate(290,2914.8) rotate(-45)">Huh-7-RCC1</text>
<text transform="translate(362,2914.8) rotate(-45)">Huh-7-Vector + siCDCA8</text>
<text transform="translate(434,2914.8) rotate(-45)">Huh-7-RCC1 + siCDCA8</text>
</g>
<g class="sigF">
<line x1="199" y1="2521" x2="273.6" y2="2521"/>
<line x1="199" y1="2460.5" x2="348" y2="2460.5"/>
<line x1="265.5" y1="2400" x2="414" y2="2400"/>
<line x1="345.8" y1="2651.5" x2="418.6" y2="2651.5"/>
</g>
<g text-anchor="middle">
<text x="238" y="2508">d</text>
<text x="277.4" y="2445.7">d</text>
<text x="339.8" y="2385">d</text>
<text x="380.7" y="2636.7">d</text>
</g>

<!-- F6 p21 -->
<text x="879" y="2321" text-anchor="middle" textLength="55.6" lengthAdjust="spacingAndGlyphs">p21</text>
<text transform="translate(604,2605.5) rotate(-90)" text-anchor="middle" textLength="400" lengthAdjust="spacingAndGlyphs">Relative protein expression</text>
<rect x="747.3" y="2600" width="59.5" height="252" fill="#0000ff"/>
<rect x="819.5" y="2781.9" width="59.5" height="70.1" fill="#ff7f00"/>
<rect x="891.6" y="2508" width="59.5" height="344" fill="#000"/>
<rect x="963.7" y="2710.9" width="59.5" height="141.1" fill="#808080"/>
<g stroke-width="5">
<path d="M777.05 2600V2569.8M762.05 2569.8H792.05" stroke="#0000ff"/>
<path d="M849.25 2781.9V2772.1M834.25 2772.1H864.25" stroke="#ff7f00"/>
<path d="M921.35 2508V2484.8M906.35 2484.8H936.35" stroke="#000"/>
<path d="M993.45 2710.9V2699.5M978.45 2699.5H1008.45" stroke="#808080"/>
</g>
<g class="axF">
<line x1="717.6" y1="2348" x2="717.6" y2="2854.5"/>
<line x1="695" y1="2348" x2="717.6" y2="2348"/>
<line x1="695" y1="2474" x2="717.6" y2="2474"/>
<line x1="695" y1="2600" x2="717.6" y2="2600"/>
<line x1="695" y1="2726" x2="717.6" y2="2726"/>
<line x1="695" y1="2852" x2="1056" y2="2852"/>
<line x1="777" y1="2852" x2="777" y2="2875"/>
<line x1="849" y1="2852" x2="849" y2="2875"/>
<line x1="920.6" y1="2852" x2="920.6" y2="2875"/>
<line x1="993.4" y1="2852" x2="993.4" y2="2875"/>
</g>
<g text-anchor="end">
<text x="678" y="2358.9">2.0</text>
<text x="678" y="2484.9">1.5</text>
<text x="678" y="2610.9">1.0</text>
<text x="678" y="2736.9">0.5</text>
<text x="678" y="2862.9">0.0</text>
<text transform="translate(794,2916) rotate(-45)">Huh-7-Vector</text>
<text transform="translate(866,2916) rotate(-45)">Huh-7-RCC1</text>
<text transform="translate(937.6,2916) rotate(-45)">Huh-7-Vector + siCDCA8</text>
<text transform="translate(1010.4,2916) rotate(-45)">Huh-7-RCC1 + siCDCA8</text>
</g>
<g class="sigF">
<line x1="775.6" y1="2549.5" x2="850" y2="2549.5"/>
<line x1="769.6" y1="2474.2" x2="916" y2="2474.2"/>
<line x1="924.3" y1="2474.2" x2="996.4" y2="2474.2"/>
<line x1="842.5" y1="2410.7" x2="989" y2="2410.7"/>
</g>
<g text-anchor="middle">
<text x="814" y="2534.7">d</text>
<text x="847.7" y="2460.5">b</text>
<text x="966.7" y="2460.5">d</text>
<text x="914.6" y="2395.3">a</text>
</g>

</svg>
</body>
</html>
